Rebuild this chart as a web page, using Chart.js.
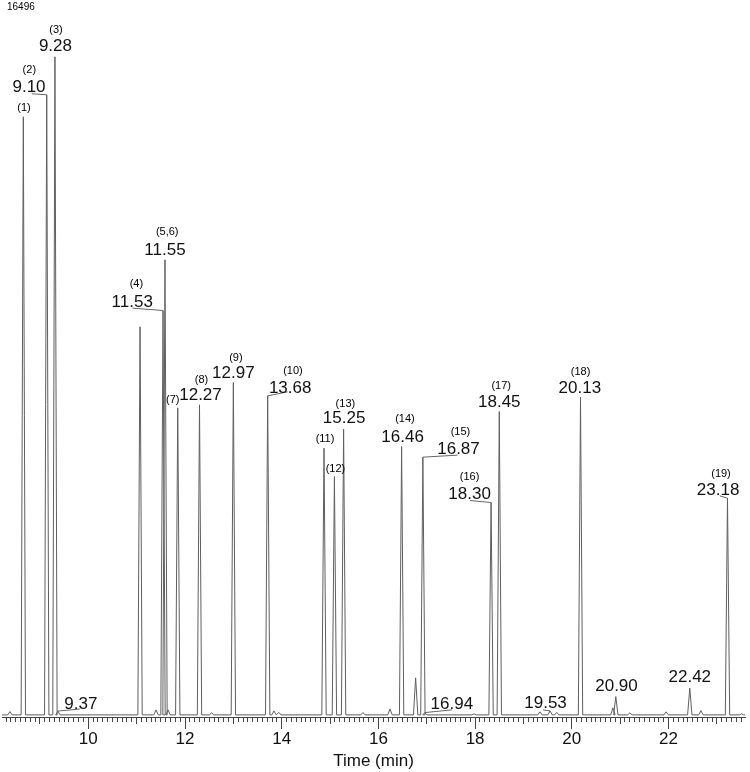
<!DOCTYPE html>
<html><head><meta charset="utf-8">
<script src="https://cdn.jsdelivr.net/npm/chart.js@4/dist/chart.umd.min.js"></script>
<style>html,body{margin:0;padding:0;background:#fff}canvas{display:block}</style>
</head><body>
<canvas id="c" width="750" height="772"></canvas>
<script>
// ---- data ----
const peakTimes = [8.38, 8.656, 9.14, 9.31, 9.37, 11.07, 11.40, 11.545, 11.586, 11.65, 11.85, 12.30, 12.55, 13.00, 13.71, 13.84, 13.94, 14.875, 15.09, 15.28, 15.68, 16.24, 16.48, 16.77, 16.92, 16.96, 17.98, 18.33, 18.50, 19.34, 19.55, 19.69, 20.18, 20.85, 20.91, 21.20, 21.95, 22.44, 22.67, 23.22, 23.51];
const peakHeights = [78, 14077, 14595, 15489, 90, 9134, 118, 9517, 10711, 118, 7227, 7297, 47, 7822, 7509, 94, 59, 6278, 5610, 6725, 54, 141, 6316, 871, 6066, 54, 24, 4998, 7140, 71, 94, 59, 7479, 165, 431, 47, 71, 629, 101, 5101, 24];
const yMaxLabel = '16496';
const yMax = 16496;
const tickLabels = ['10', '12', '14', '16', '18', '20', '22'];
const xTitle = 'Time (min)';
const rtLabelTexts = ['9.10', '9.28', '9.37', '11.53', '11.55', '12.27', '12.97', '13.68', '15.25', '16.46', '16.87', '16.94', '18.30', '18.45', '19.53', '20.13', '20.90', '22.42', '23.18'];
const rtLabelPeaks = [9.14, 9.31, 9.37, 11.545, 11.586, 12.30, 13.00, 13.71, 15.28, 16.48, 16.92, 16.96, 18.33, 18.50, 19.55, 20.18, 20.91, 22.44, 23.22];
const compoundLabelTexts = ['(1)', '(2)', '(3)', '(4)', '(5,6)', '(7)', '(8)', '(9)', '(10)', '(11)', '(12)', '(13)', '(14)', '(15)', '(16)', '(17)', '(18)', '(19)'];
const compoundLabelPeaks = [8.656, 9.14, 9.31, 11.545, 11.586, 11.85, 12.30, 13.00, 13.71, 14.875, 15.09, 15.28, 16.48, 16.92, 18.33, 18.50, 20.18, 23.22];

// ---- layout (pixel offsets of labels relative to the peak apex) ----
const rtLabelLayout = [
  {dx:-17.7, dy:-9, lx:-15, ly:-1},
  {dx:0.5, dy:-11.5},
  {dx:23, dy:-8, lx:22, ly:-2},
  {dx:-30.8, dy:-9.7, lx:-30.6, ly:-2.4},
  {dx:0, dy:-10.5},
  {dx:1, dy:-10.5},
  {dx:0, dy:-11},
  {dx:22.5, dy:-9.3, lx:20, ly:-4},
  {dx:0.5, dy:-12},
  {dx:1, dy:-10.5},
  {dx:35.6, dy:-9.5, lx:34.6, ly:-2},
  {dx:27, dy:-9.4, lx:27, ly:-2.7},
  {dx:-21.5, dy:-9.5, lx:-21, ly:-2},
  {dx:0, dy:-11},
  {dx:-4.5, dy:-9.3, lx:-7, ly:-1},
  {dx:-0.7, dy:-10.6},
  {dx:0.7, dy:-11.7},
  {dx:0, dy:-12},
  {dx:-9.4, dy:-9.5, lx:-7.7, ly:-2.3}
];
const compoundLabelLayout = [
  {dx:0.7, dy:-9}, {dx:-17.4, dy:-25}, {dx:1, dy:-26.3}, {dx:-26.6, dy:-27},
  {dx:2.2, dy:-27.5}, {dx:-5, dy:-8}, {dx:2, dy:-24.7}, {dx:2.5, dy:-25},
  {dx:25.3, dy:-24.8}, {dx:1, dy:-8.8}, {dx:1, dy:-8}, {dx:1.8, dy:-25.6},
  {dx:3.3, dy:-27.2}, {dx:37.6, dy:-24.8}, {dx:-21.5, dy:-25.5}, {dx:1.9, dy:-25.5},
  {dx:0, dy:-24.8}, {dx:-6.5, dy:-24}
];
const HALF_WIDTH = 0.045;
const X_MIN = 8.215, X_MAX = 23.582;
const FONT = '"Liberation Sans", Arial, sans-serif';

// build trace from peak list (baseline + triangular peaks)
const trace = [{x: X_MIN, y: 0}];
peakTimes.forEach((t, i) => {
  trace.push({x: t - HALF_WIDTH, y: 0}, {x: t, y: peakHeights[i]}, {x: t + HALF_WIDTH, y: 0});
});
trace.push({x: X_MAX, y: 0});

const labelPlugin = {
  id: 'peakLabels',
  afterDatasetsDraw(chart) {
    const ctx = chart.ctx, xs = chart.scales.x, ys = chart.scales.y;
    const apex = t => {
      const i = peakTimes.indexOf(t);
      return {x: xs.getPixelForValue(t), y: ys.getPixelForValue(peakHeights[i])};
    };
    ctx.save();
    ctx.strokeStyle = '#666';
    ctx.lineWidth = 1;
    rtLabelPeaks.forEach((t, i) => {
      const L = rtLabelLayout[i];
      if (L.lx === undefined) return;
      const a = apex(t);
      ctx.beginPath();
      ctx.moveTo(a.x + L.lx, a.y + L.ly);
      ctx.lineTo(a.x, a.y);
      ctx.stroke();
    });
    ctx.fillStyle = '#111';
    ctx.textAlign = 'center';
    ctx.textBaseline = 'alphabetic';
    ctx.font = '17px ' + FONT;
    rtLabelPeaks.forEach((t, i) => {
      const L = rtLabelLayout[i];
      const a = apex(t);
      ctx.fillText(rtLabelTexts[i], a.x + L.dx, a.y + L.dy + 6.1);
    });
    ctx.fillStyle = '#000';
    ctx.font = '11px ' + FONT;
    compoundLabelPeaks.forEach((t, i) => {
      const L = compoundLabelLayout[i];
      const a = apex(t);
      ctx.fillText(compoundLabelTexts[i], a.x + L.dx, a.y + L.dy + 3);
    });
    ctx.textAlign = 'left';
    ctx.font = '10px ' + FONT;
    ctx.fillText(yMaxLabel, 7, 9.5);
    ctx.restore();
  }
};

const isInt = v => Math.abs(v - Math.round(v)) < 1e-6;

new Chart(document.getElementById('c'), {
  type: 'scatter',
  data: {
    datasets: [{
      data: trace,
      showLine: true,
      pointRadius: 0,
      borderColor: '#5f5f5f',
      borderWidth: 1,
      tension: 0
    }]
  },
  options: {
    responsive: false,
    animation: false,
    devicePixelRatio: 1,
    layout: {padding: {top: 14, left: 2, right: 5, bottom: 0}},
    plugins: {legend: {display: false}, tooltip: {enabled: false}},
    scales: {
      x: {
        type: 'linear',
        position: 'bottom',
        min: X_MIN,
        max: X_MAX,
        border: {display: true, color: '#444', width: 1},
        grid: {
          drawOnChartArea: false,
          drawTicks: true,
          tickLength: 12,
          tickColor: '#444',
          tickWidth: 1,
          tickBorderDash: c => {
            const v = c.tick.value;
            if (isInt(v)) return Math.round(v) % 2 === 0 ? [] : [6, 40];
            return [4, 40];
          }
        },
        ticks: {
          stepSize: 0.1,
          autoSkip: false,
          includeBounds: false,
          maxRotation: 0,
          minRotation: 0,
          padding: 1.5,
          color: '#111',
          font: {family: FONT, size: 17, lineHeight: 1},
          callback: v => {
            const s = String(Math.round(v));
            return (isInt(v) && tickLabels.includes(s)) ? s : '';
          }
        },
        title: {
          display: true,
          text: xTitle,
          color: '#111',
          font: {family: FONT, size: 17, lineHeight: 1},
          padding: {top: 4, bottom: 2}
        }
      },
      y: {
        display: false,
        min: -50,
        max: yMax
      }
    }
  },
  plugins: [labelPlugin]
});
</script>
</body></html>
